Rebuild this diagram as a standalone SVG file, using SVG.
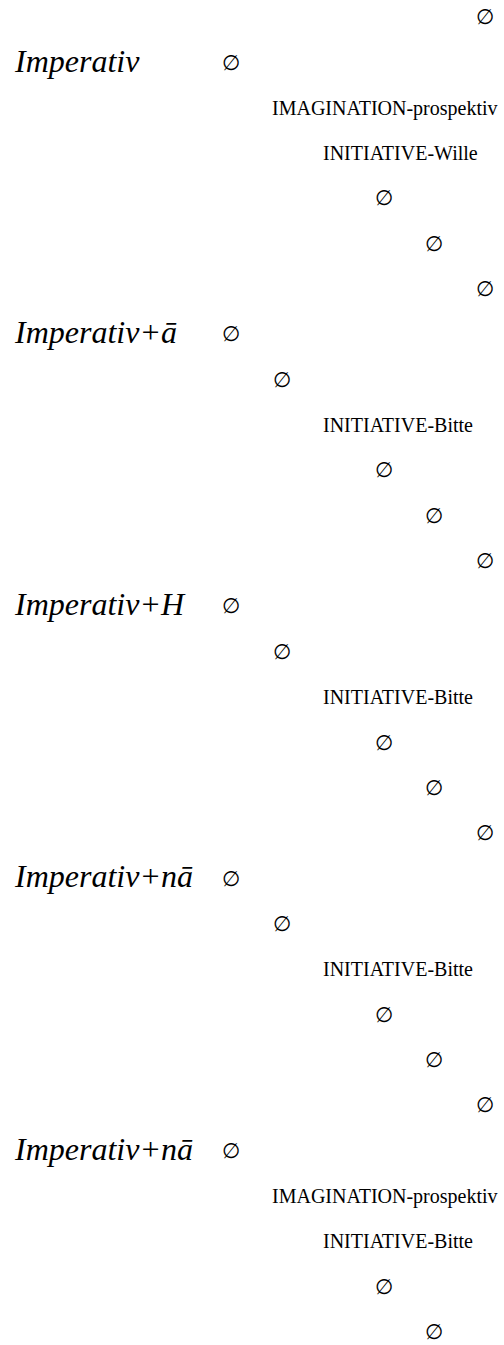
<svg xmlns="http://www.w3.org/2000/svg" width="504" height="1345" viewBox="0 0 504 1345">
<style>
text{font-family:"Liberation Serif","DejaVu Serif",serif;fill:#000}
.t{font-size:20px}
.e{font-size:21px}
.h{font-size:32px;font-style:italic}
</style>
<rect width="504" height="1345" fill="#fff"/>
<g id="connectors"/>
<g id="n0"><text class="e" x="476" y="24">∅</text></g>
<g id="h1"><text class="h" x="15" y="72">Imperativ</text><text class="e" x="222" y="70">∅</text></g>
<g id="n2"><text class="t" x="272" y="115">IMAGINATION-prospektiv</text></g>
<g id="n3"><text class="t" x="323" y="160">INITIATIVE-Wille</text></g>
<g id="n4"><text class="e" x="375" y="205">∅</text></g>
<g id="n5"><text class="e" x="425" y="251">∅</text></g>
<g id="n6"><text class="e" x="476" y="296">∅</text></g>
<g id="h7"><text class="h" x="15" y="343">Imperativ+ā</text><text class="e" x="222" y="341">∅</text></g>
<g id="n8"><text class="e" x="273" y="387">∅</text></g>
<g id="n9"><text class="t" x="323" y="432">INITIATIVE-Bitte</text></g>
<g id="n10"><text class="e" x="375" y="477">∅</text></g>
<g id="n11"><text class="e" x="425" y="523">∅</text></g>
<g id="n12"><text class="e" x="476" y="568">∅</text></g>
<g id="h13"><text class="h" x="15" y="615">Imperativ+H</text><text class="e" x="222" y="613">∅</text></g>
<g id="n14"><text class="e" x="273" y="659">∅</text></g>
<g id="n15"><text class="t" x="323" y="704">INITIATIVE-Bitte</text></g>
<g id="n16"><text class="e" x="375" y="750">∅</text></g>
<g id="n17"><text class="e" x="425" y="795">∅</text></g>
<g id="n18"><text class="e" x="476" y="840">∅</text></g>
<g id="h19"><text class="h" x="15" y="887">Imperativ+nā</text><text class="e" x="222" y="886">∅</text></g>
<g id="n20"><text class="e" x="273" y="931">∅</text></g>
<g id="n21"><text class="t" x="323" y="976">INITIATIVE-Bitte</text></g>
<g id="n22"><text class="e" x="375" y="1022">∅</text></g>
<g id="n23"><text class="e" x="425" y="1067">∅</text></g>
<g id="n24"><text class="e" x="476" y="1112">∅</text></g>
<g id="h25"><text class="h" x="15" y="1160">Imperativ+nā</text><text class="e" x="222" y="1158">∅</text></g>
<g id="n26"><text class="t" x="272" y="1203">IMAGINATION-prospektiv</text></g>
<g id="n27"><text class="t" x="323" y="1248">INITIATIVE-Bitte</text></g>
<g id="n28"><text class="e" x="375" y="1294">∅</text></g>
<g id="n29"><text class="e" x="425" y="1339">∅</text></g>
</svg>
